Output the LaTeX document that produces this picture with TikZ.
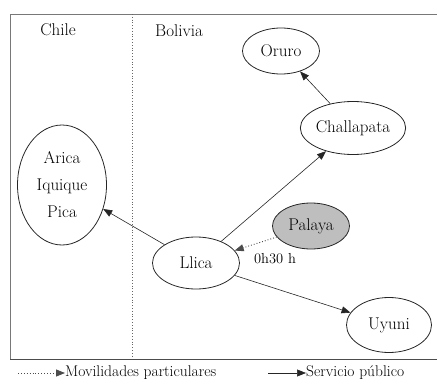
\documentclass[tikz,border=0pt]{standalone}
\usetikzlibrary{arrows.meta,positioning,shapes.geometric}
\definecolor{framegray}{RGB}{120,120,120}
\definecolor{placegray}{RGB}{190,190,190}
\tikzset{
  place/.style={
    ellipse, draw=black!85, line width=0.8pt, inner sep=0pt,
    align=center, font=\fontsize{17}{27}\selectfont
  },
  route arrow/.style={-{Triangle[length=9pt,width=7pt]}, line width=0.6pt, black!85},
  private arrow/.style={-{Triangle[length=9pt,width=7pt]}, line width=0.9pt, dotted, black!70},
  country/.style={font=\fontsize{17}{20}\selectfont},
  legend text/.style={anchor=west, inner sep=0pt, font=\fontsize{15.5}{19}\selectfont}
}

\begin{document}
\begin{tikzpicture}[x=1pt, y=-1pt]
    \useasboundingbox (0,0) rectangle (437,383);
    % frame and border line
    \draw[framegray, line width=0.8pt] (10,14) -- (437,14);
    \draw[framegray, line width=1.6pt] (10.5,14) -- (10.5,359);
    \draw[black!70, line width=0.9pt] (10,359) -- (437,359);
    \draw[black!60, line width=0.8pt, dotted] (132,14) -- (132,357);
    \node[country] (chile) at (58,30) {Chile};
    \node[country] (bolivia) at (179,31) {Bolivia};

    % places
    \node[place, minimum width=89pt, minimum height=120pt] (arica) at (62,185) {Arica\\Iquique\\Pica};
    \node[place, minimum width=77pt, minimum height=46pt] (oruro) at (281,51) {Oruro};
    \node[place, minimum width=88pt, minimum height=53pt] (challapata) at (353,128) {Challapata};
    \node[place, minimum width=87pt, minimum height=52pt] (llica) at (196,263) {Llica};
    \node[place, fill=placegray, minimum width=77pt, minimum height=46pt] (palaya) at (311,226) {Palaya};
    \node[place, minimum width=85pt, minimum height=55pt] (uyuni) at (389,325) {Uyuni};

    % connections
    \draw[route arrow] (llica) -- (arica);
    \draw[route arrow] (llica) -- (challapata);
    \draw[route arrow] (challapata) -- (oruro);
    \draw[route arrow] (llica) -- (uyuni);
    \draw[private arrow] (palaya) -- (llica);
    \node[font=\fontsize{14.5}{17}\selectfont] (time) at (275,259) {0h30 h};

    % legend
    \coordinate (dotstart) at (18,373);
    \coordinate (dotend) at (65,373);
    \coordinate (linestart) at (268,373);
    \coordinate (lineend) at (306,373);
    \draw[private arrow] (dotstart) -- (dotend);
    \node[legend text] (privatelabel) at (dotend) {Movilidades particulares};
    \draw[route arrow] (linestart) -- (lineend);
    \node[legend text] (publiclabel) at (lineend) {Servicio público};
  \end{tikzpicture}
\end{document}
